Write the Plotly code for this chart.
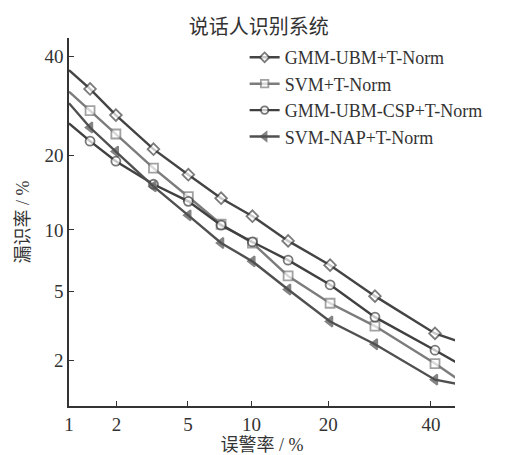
import plotly.graph_objects as go
from statistics import NormalDist

# False-alarm rate (%) at curve points (first/last are curve ends without markers)
x_pct = [1, 1.37, 1.98, 3.27, 5.02, 7.28, 10.1, 14.2, 20.3, 28.3, 40.9, 46.2]

# Miss rate (%) per system
gmm_ubm = [36.9, 32.8, 27.4, 21.1, 17.0, 13.7, 11.5, 8.9, 6.8, 4.7, 2.9, 2.6]
svm = [32.2, 28.3, 23.8, 18.0, 13.9, 10.6, 8.7, 6.0, 4.3, 3.2, 1.9, 1.5]
gmm_csp = [25.8, 22.5, 19.1, 15.6, 13.3, 10.5, 8.8, 7.2, 5.4, 3.6, 2.3, 1.9]
svm_nap = [29.8, 25.0, 20.7, 15.3, 11.6, 8.7, 7.1, 5.1, 3.4, 2.5, 1.5, 1.4]

series_names = ["GMM-UBM+T-Norm", "SVM+T-Norm", "GMM-UBM-CSP+T-Norm", "SVM-NAP+T-Norm"]
x_ticks = [1, 2, 5, 10, 20, 40]
y_ticks = [2, 5, 10, 20, 40]

nd = NormalDist()


def probit(vals):
    return [nd.inv_cdf(v / 100.0) for v in vals]


styles = [
    dict(color="#444444", symbol="diamond", fill="white"),
    dict(color="#7c7c7c", symbol="square", fill="white"),
    dict(color="#404040", symbol="circle", fill="white"),
    dict(color="#505050", symbol="triangle-left", fill="#505050"),
]

fig = go.Figure()
n = len(x_pct)
sizes = [0] + [9] * (n - 2) + [0]
for name, vals, st in zip(series_names, [gmm_ubm, svm, gmm_csp, svm_nap], styles):
    fig.add_trace(go.Scatter(
        x=probit(x_pct), y=probit(vals), name=name, mode="lines+markers",
        line=dict(color=st["color"], width=2.4),
        marker=dict(symbol=st["symbol"], size=sizes, color=st["fill"],
                    line=dict(color=st["color"], width=1.8)),
    ))

font_fam = "Liberation Serif, Noto Sans CJK SC, serif"
axis_common = dict(
    showgrid=False, zeroline=False, showline=True, linecolor="#333333", linewidth=1.5,
    ticks="inside", ticklen=5, tickwidth=1.2, tickcolor="#333333", automargin=False,
    tickfont=dict(family=font_fam, size=19, color="#333333"),
)

fig.update_layout(
    width=528, height=455,
    margin=dict(l=61, r=81, t=30, b=57),
    paper_bgcolor="white", plot_bgcolor="white",
    font=dict(family=font_fam, color="#333333"),
    title=dict(text="说话人识别系统", x=0.475, xanchor="center", y=0.958, yanchor="middle",
               font=dict(size=20, color="#333333")),
    xaxis=dict(range=[nd.inv_cdf(0.01), nd.inv_cdf(0.454)],
               tickvals=probit(x_ticks), ticktext=[str(t) for t in x_ticks],
               title=dict(text="误警率 / %", font=dict(size=18), standoff=0),
               **axis_common),
    yaxis=dict(range=[nd.inv_cdf(0.01), nd.inv_cdf(0.443)],
               tickvals=probit(y_ticks), ticktext=[str(t) for t in y_ticks],
               title=dict(text="漏识率 / %", font=dict(size=18), standoff=10),
               **axis_common),
    legend=dict(x=0.455, y=0.997, xanchor="left", yanchor="top",
                bgcolor="rgba(0,0,0,0)", font=dict(size=18, color="#333333"),
                itemwidth=30, tracegroupgap=0),
    showlegend=True,
)

fig.write_html("out.html")
